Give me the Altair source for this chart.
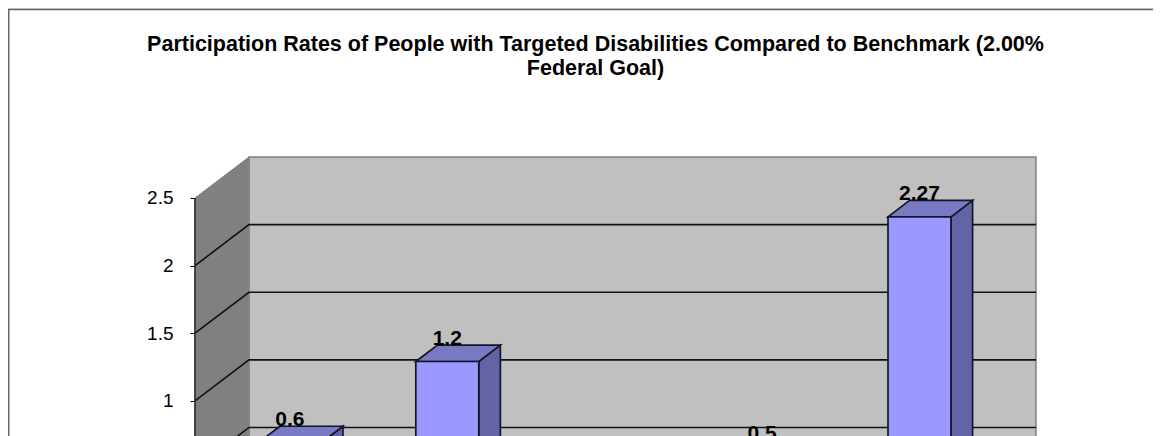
import altair as alt
import pandas as pd

TITLE = ["Participation Rates of People with Targeted Disabilities Compared to Benchmark (2.00%",
         "Federal Goal)"]
# Values per category slot. The third slot's bar lies below the visible crop of the reference.
VALUES = [0.6, 1.2, None, 0.5, 2.27]
TICKS = [1, 1.5, 2, 2.5]

# Oblique projection of the chart's 3-D box, in data units
DEPTH_X = 0.343      # category units shifted by the full depth
DEPTH_Y = 0.303      # value units shifted by the full depth
BAR_WIDTH = 0.40
BAR_D0, BAR_D1 = 0.30, 0.70
N = len(VALUES)
TOP = 2.5

W, H = 1145, 428
# Visible window of the scales (front plane)
X_DOMAIN = [-1.188, -1.188 + W / 157.4]
Y_DOMAIN = [0.74, 3.905]

FONT = "Liberation Sans"
EDGE = "#15152a"

xs = alt.Scale(domain=X_DOMAIN, nice=False, zero=False)
ys = alt.Scale(domain=Y_DOMAIN, nice=False, zero=False)
X = alt.X("x:Q", scale=xs, axis=None)
Y = alt.Y("y:Q", scale=ys, axis=alt.Axis(
    values=TICKS, labelExpr="'' + datum.value", title=None, domain=False, grid=False, offset=-187,
    tickColor="#000000", tickSize=5, tickWidth=1,
    labelFont=FONT, labelFontSize=19, labelColor="#000000", labelPadding=17))


def px(u, d):
    return u + d * DEPTH_X


def py(v, d):
    return v + d * DEPTH_Y


# walls
left_wall = pd.DataFrame({"x": [px(0, 0), px(0, 1)],
                          "y": [py(TOP, 0), py(TOP, 1)],
                          "y0": [py(0, 0), py(0, 1)]})
back_wall = pd.DataFrame([{"x": px(0, 1), "x2": px(N, 1), "y": py(0, 1), "y2": py(TOP, 1)}])

# gridlines run along the side wall, then along the back wall
grid_rows = []
for g in [0.5, 1, 1.5, 2]:
    grid_rows += [{"g": g, "o": 0, "x": px(0, 0), "y": py(g, 0)},
                  {"g": g, "o": 1, "x": px(0, 1), "y": py(g, 1)},
                  {"g": g, "o": 2, "x": px(N, 1), "y": py(g, 1)}]
grid = pd.DataFrame(grid_rows)

front_rows, side_rows, top_rows, label_rows = [], [], [], []
for i, v in enumerate(VALUES):
    if v is None:
        continue
    l, r = i + 0.5 - BAR_WIDTH / 2, i + 0.5 + BAR_WIDTH / 2
    front_rows.append({"x": px(l, BAR_D0), "x2": px(r, BAR_D0), "y": py(0, BAR_D0), "y2": py(v, BAR_D0)})
    side_rows += [{"b": i, "x": px(r, BAR_D0), "y": py(v, BAR_D0), "y0": py(0, BAR_D0)},
                  {"b": i, "x": px(r, BAR_D1), "y": py(v, BAR_D1), "y0": py(0, BAR_D1)}]
    top_rows += [{"b": i, "y": py(v, BAR_D0), "x": px(l, BAR_D0), "x0": px(r, BAR_D0)},
                 {"b": i, "y": py(v, BAR_D1), "x": px(l, BAR_D1), "x0": px(r, BAR_D1)}]
    label_rows.append({"x": px(i + 0.5, BAR_D0), "y": py(v, BAR_D1), "t": str(v)})

layers = [
    alt.Chart(back_wall).mark_rect(fill="#C0C0C0", stroke="#808080", strokeWidth=1.5, clip=True).encode(
        x=X, x2="x2:Q", y=Y, y2="y2:Q"),
    alt.Chart(left_wall).mark_area(fill="#808080", stroke="#808080", strokeWidth=1, clip=True).encode(
        x=X, y=Y, y2="y0:Q"),
    alt.Chart(grid).mark_line(color="#111111", strokeWidth=1.6, clip=True).encode(
        x=X, y=Y, detail="g:N", order="o:Q"),
    alt.Chart(pd.DataFrame({"x": [0, 0], "y": [0, TOP]})).mark_line(color="#222222", strokeWidth=1.5, clip=True).encode(
        x=X, y=Y),
    alt.Chart(pd.DataFrame(side_rows)).mark_area(fill="#6363A5", stroke=EDGE, strokeWidth=1.7, clip=True).encode(
        x=X, y=Y, y2="y0:Q", detail="b:N"),
    alt.Chart(pd.DataFrame(top_rows)).mark_area(orient="horizontal", fill="#7A7AC4", stroke=EDGE, strokeWidth=1.7, clip=True).encode(
        y=Y, x=X, x2="x0:Q", detail="b:N"),
    alt.Chart(pd.DataFrame(front_rows)).mark_rect(fill="#9999FF", stroke=EDGE, strokeWidth=1.7, clip=True).encode(
        x=X, x2="x2:Q", y=Y, y2="y2:Q"),
    alt.Chart(pd.DataFrame(label_rows)).mark_text(
        font=FONT, fontSize=21, fontWeight="bold", color="#000000", baseline="alphabetic", clip=True
    ).encode(x=X, y=Y, text="t:N"),
    # page frame
    alt.Chart(pd.DataFrame({"a": [0]})).mark_rule(color="#666666", strokeWidth=1.5).encode(
        x=alt.value(0), x2=alt.value(W), y=alt.value(1.5)),
    alt.Chart(pd.DataFrame({"a": [0]})).mark_rule(color="#666666", strokeWidth=1.5).encode(
        x=alt.value(0.75), y=alt.value(1.5), y2=alt.value(H)),
]

chart = alt.layer(*layers).properties(
    width=W, height=H, padding=0, autosize=alt.AutoSizeParams(type="none"),
    title=alt.TitleParams(text=TITLE, font=FONT, fontSize=21.5, fontWeight="bold", color="#000000",
                          anchor="middle", frame="group", orient="top", dx=15, offset=-88,
                          lineHeight=24, baseline="alphabetic"),
).configure_view(stroke=None).configure(background="#FFFFFF")

chart.save("out.html", embed_options={"renderer": "svg", "actions": False})
